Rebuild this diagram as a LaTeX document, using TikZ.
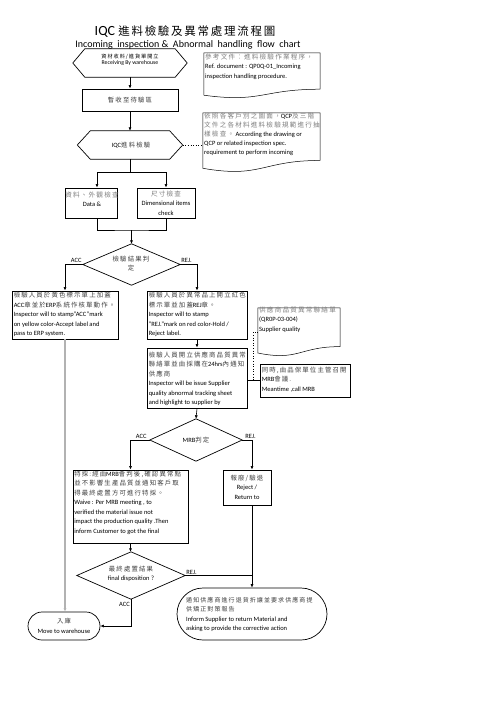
\documentclass[tikz,border=0pt]{standalone}
\usepackage{fontspec}
\setmainfont{Carlito}
\newfontfamily\cjk[LetterSpace=18]{Noto Sans CJK TC}
\newfontfamily\cjkt[LetterSpace=15]{Noto Sans CJK TC}
\usetikzlibrary{calc,arrows.meta}
\newcommand\zk[1]{{\cjk\fontsize{6.4}{9.5}\selectfont\color{black!75}#1}}
\newcommand\zs[1]{{\cjk\fontsize{6.0}{9.5}\selectfont\color{black!75}#1}}
\newcommand\zh[1]{{\cjk\fontsize{6.6}{9.5}\selectfont\color{black!50}#1}}
\newcommand\hexdraw[2]{\draw[line width=0.7pt] (#1.west) -- ([xshift=#2]#1.north west) -- ([xshift=-#2]#1.north east) -- (#1.east) -- ([xshift=-#2]#1.south east) -- ([xshift=#2]#1.south west) -- cycle;}
\newcommand\diadraw[1]{\draw[line width=0.7pt] (#1.north) -- (#1.east) -- (#1.south) -- (#1.west) -- cycle;}
\newcommand\docdraw[1]{\draw[line width=0.5pt] (#1.north west) -- (#1.north east) -- ($(#1.north east)!0.802!(#1.south east)$) .. controls ($(#1.north)!0.802!(#1.south)$) and ($(#1.north)!1.107!(#1.south)$) .. ($(#1.north west)!0.934!(#1.south west)$) -- cycle;}
\tikzset{
  line/.style={draw=black, line width=0.6pt},
  arr/.style={line, -{Latex[length=3.5pt,width=3pt]}},
  box/.style={draw, line width=0.9pt, rectangle, inner sep=0pt},
  shp/.style={rectangle, inner sep=0pt},
  txt/.style={inner sep=0pt, align=left, font=\fontsize{6.5}{9.5}\selectfont, anchor=north west},
  ctxt/.style={inner sep=0pt, align=center, font=\fontsize{6.5}{9.5}\selectfont},
  lbl/.style={inner sep=0pt, font=\fontsize{6.5}{8}\selectfont},
}
\begin{document}
\begin{tikzpicture}[x=1pt,y=-1pt]
\useasboundingbox (0,0) rectangle (496,702);
\fill[white] (0,0) rectangle (496,702);

% titles
\node[inner sep=0pt] (title) at (185,32) {\fontsize{14}{16}\selectfont IQC {\cjkt\fontsize{11.5}{14}\selectfont 進料檢驗及異常處理流程圖}};
\node[inner sep=0pt] (subtitle) at (188,45) {\fontsize{10}{12}\selectfont Incoming\ \ inspection \&\ \ Abnormal\ \ handling\ \ flow\ \ chart};

% shapes
\node[shp, minimum width=114, minimum height=28] (recv) at (130,63) {};
\hexdraw{recv}{12}
\node[ctxt, font=\fontsize{5.8}{6.5}\selectfont] (recvT) at (130,60) {{\cjk\fontsize{5.2}{6.5}\selectfont 資材收料/進貨單開立}\\Receiving By warehouse};

\node[box, minimum width=96, minimum height=22] (hold) at (130,100) {\zk{暫收至待驗區}};

\node[shp, minimum width=105, minimum height=28] (iqc) at (130,145) {};
\hexdraw{iqc}{13}
\node[ctxt] (iqcT) at (131,145) {IQC\zk{進料檢驗}};

\node[shp, minimum width=116, minimum height=45] (note1) at (262,75.5) {};
\docdraw{note1}
\node[txt] (note1T) at (205,53.5) {\zh{參考文件：進料檢驗作業程序，}\\Ref. document : QP0Q-01\_Incoming\\inspection handling procedure.};

\node[shp, minimum width=117, minimum height=59] (note2) at (261.5,142.5) {};
\docdraw{note2}
\node[txt, font=\fontsize{6.5}{9}\selectfont] (note2T) at (204,112.5) {\zh{依照各客戶別之圖面，}QCP\zh{及三階}\\\zh{文件之各材料進料檢驗規範進行抽}\\\zh{樣檢查。} According the drawing or\\QCP or related inspection spec.\\requirement to perform incoming};

\node[box, minimum width=52, minimum height=30] (data) at (91,203) {};
\node[ctxt] (dataT) at (92,199) {\zh{資料、外觀檢查}\\Data \&};
\node[box, minimum width=58, minimum height=30] (dim) at (166,203) {};
\node[ctxt] (dimT) at (166,203) {\zh{尺寸檢查}\\Dimensional items\\check};

\node[shp, minimum width=97, minimum height=41] (judge) at (131.5,264.5) {};
\diadraw{judge}
\node[ctxt] (judgeT) at (131,263.5) {\zk{檢驗結果判}\\\zk{定}};

\node[box, minimum width=106, minimum height=48] (accbox) at (65,315) {};
\node[txt] (accT) at ([xshift=2,yshift=-1.5]accbox.north west) {\zk{檢驗人員於黃色標示單上加蓋}\\ACC\zk{章並於}ERP\zk{系統作核單動作。}\\Inspector will to stamp"ACC"mark\\on yellow color-Accept label and\\pass to ERP system.};

\node[box, minimum width=100, minimum height=48] (rejbox) at (197,315) {};
\node[txt] (rejT) at ([xshift=2,yshift=-1.5]rejbox.north west) {\zk{檢驗人員於異常品上開立紅色}\\\zk{標示單並加蓋}REJ\zk{章。}\\Inspector will to stamp\\"REJ."mark on red color-Hold /\\Reject label.};

\node[box, minimum width=100, minimum height=60] (sqbox) at (197,378) {};
\node[txt] (sqT) at ([xshift=2,yshift=-4]sqbox.north west) {\zk{檢驗人員開立供應商品質異常}\\\zk{聯絡單並由採購在}24hrs\zk{內通知}\\\zk{供應商}\\Inspector will be issue Supplier\\quality abnormal tracking sheet\\and highlight to supplier by};

\node[shp, minimum width=82, minimum height=48] (note3) at (299,332) {};
\docdraw{note3}
\node[txt] (note3T) at (259,306.5) {\zh{供應商品質異常聯絡單}\\(QR0P-03-004)\\Supplier quality};

\node[box, minimum width=90, minimum height=33] (mrbcall) at (305,380.5) {};
\node[txt] (mrbcallT) at ([xshift=2,yshift=-3]mrbcall.north west) {\zk{同時,由品保單位主管召開}\\MRB\zk{會議.}\\Meantime ,call MRB};

\node[shp, minimum width=92, minimum height=42] (mrb) at (196,440) {};
\diadraw{mrb}
\node[ctxt] (mrbT) at (196,440) {MRB\zk{判定}};

\node[box, minimum width=115, minimum height=73] (waive) at (130.5,506.5) {};
\node[txt] (waiveT) at ([xshift=1.5,yshift=-1]waive.north west) {\zk{特採:經由}MRB\zk{會判後,確認異常點}\\\zk{並不影響生產品質並通知客戶取}\\\zk{得最終處置方可進行特採。}\\Waive : Per MRB meeting , to\\verified the material issue not\\impact the production quality .Then\\inform Customer to got the final};

\node[box, minimum width=48, minimum height=35] (reject) at (247,487.5) {};
\node[ctxt] (rejectT) at (247,487) {\zk{報廢/驗退}\\Reject /\\Return to};

\node[shp, minimum width=108, minimum height=47] (final) at (131,575.5) {};
\diadraw{final}
\node[ctxt] (finalT) at (131,574) {\zk{最終處置結果}\\final disposition ?};

\node[draw, line width=0.7pt, rounded corners=26, minimum width=150, minimum height=52, inner sep=0pt] (ret) at (252,614) {};
\node[txt] (retT) at (186,597) {\zs{通知供應商進行退貨折讓並要求供應商提}\\\zs{供矯正對策報告}\\Inform Supplier to return Material and\\asking to provide the corrective action};

\node[draw, line width=0.7pt, rounded corners=14, minimum width=72, minimum height=28, inner sep=0pt, align=center, font=\fontsize{6.5}{9.5}\selectfont] (wh) at (64,626) {\zk{入庫}\\Move to warehouse};

% connectors
\draw[arr] (recv.south) -- (hold.north);
\draw[arr] (hold.south) -- (iqc.north);
\draw[line, dotted] (iqc.east) -- (iqc.east -| note2.west);
\coordinate (split) at (130,172);
\draw[line] (iqc.south) -- (split);
\draw[arr] (split) -| ([xshift=6]data.north);
\draw[arr] (split) -| (dim.north);
\coordinate (merge) at (131.5,230);
\draw[line] ([xshift=6]data.south) |- (merge) -| (dim.south);
\draw[arr] (merge) -- (judge.north);
\draw[arr] (judge.west) -| (accbox.north);
\draw[arr] (judge.east) -| (rejbox.north);
\node[lbl, anchor=south east] (acc1) at ([xshift=-1,yshift=1.5]judge.west) {ACC};
\node[lbl, anchor=south west] (rej1) at ([xshift=1,yshift=1.5]judge.east) {REJ.};
\draw[arr] (rejbox.south) -- (sqbox.north);
\draw[line] (mrbcall.west -| sqbox.east) -- (mrbcall.west);
\coordinate (dj) at (253,380.5);
\draw[line, dotted] (note3.west) -| (dj);
\draw[arr] (sqbox.south) -- (mrb.north);
\draw[arr] (mrb.west) -| (waive.north);
\draw[arr] (mrb.east) -| ([xshift=5]reject.north);
\node[lbl, anchor=south east] (acc2) at ([xshift=-3,yshift=1.5]mrb.west) {ACC};
\node[lbl, anchor=south west] (rej2) at ([xshift=3,yshift=1.5]mrb.east) {REJ.};
\draw[arr] (waive.south) -- (waive.south |- final.north);
\draw[arr] ([xshift=5]reject.south) -- (ret.north);
\draw[line] (final.east) -- (final.east -| ret.north);
\node[lbl, anchor=south west] (rej3) at ([xshift=1,yshift=1]final.east) {REJ.};
\draw[arr] (final.south) |- (wh.east);
\node[lbl, anchor=north east] (acc3) at ([xshift=-1,yshift=-3]final.south) {ACC};
\draw[line width=1.3pt, draw=black!30, -{Latex[length=3.5pt,width=3pt]}] (accbox.south) -- (accbox.south |- wh.north);
\end{tikzpicture}
\end{document}
